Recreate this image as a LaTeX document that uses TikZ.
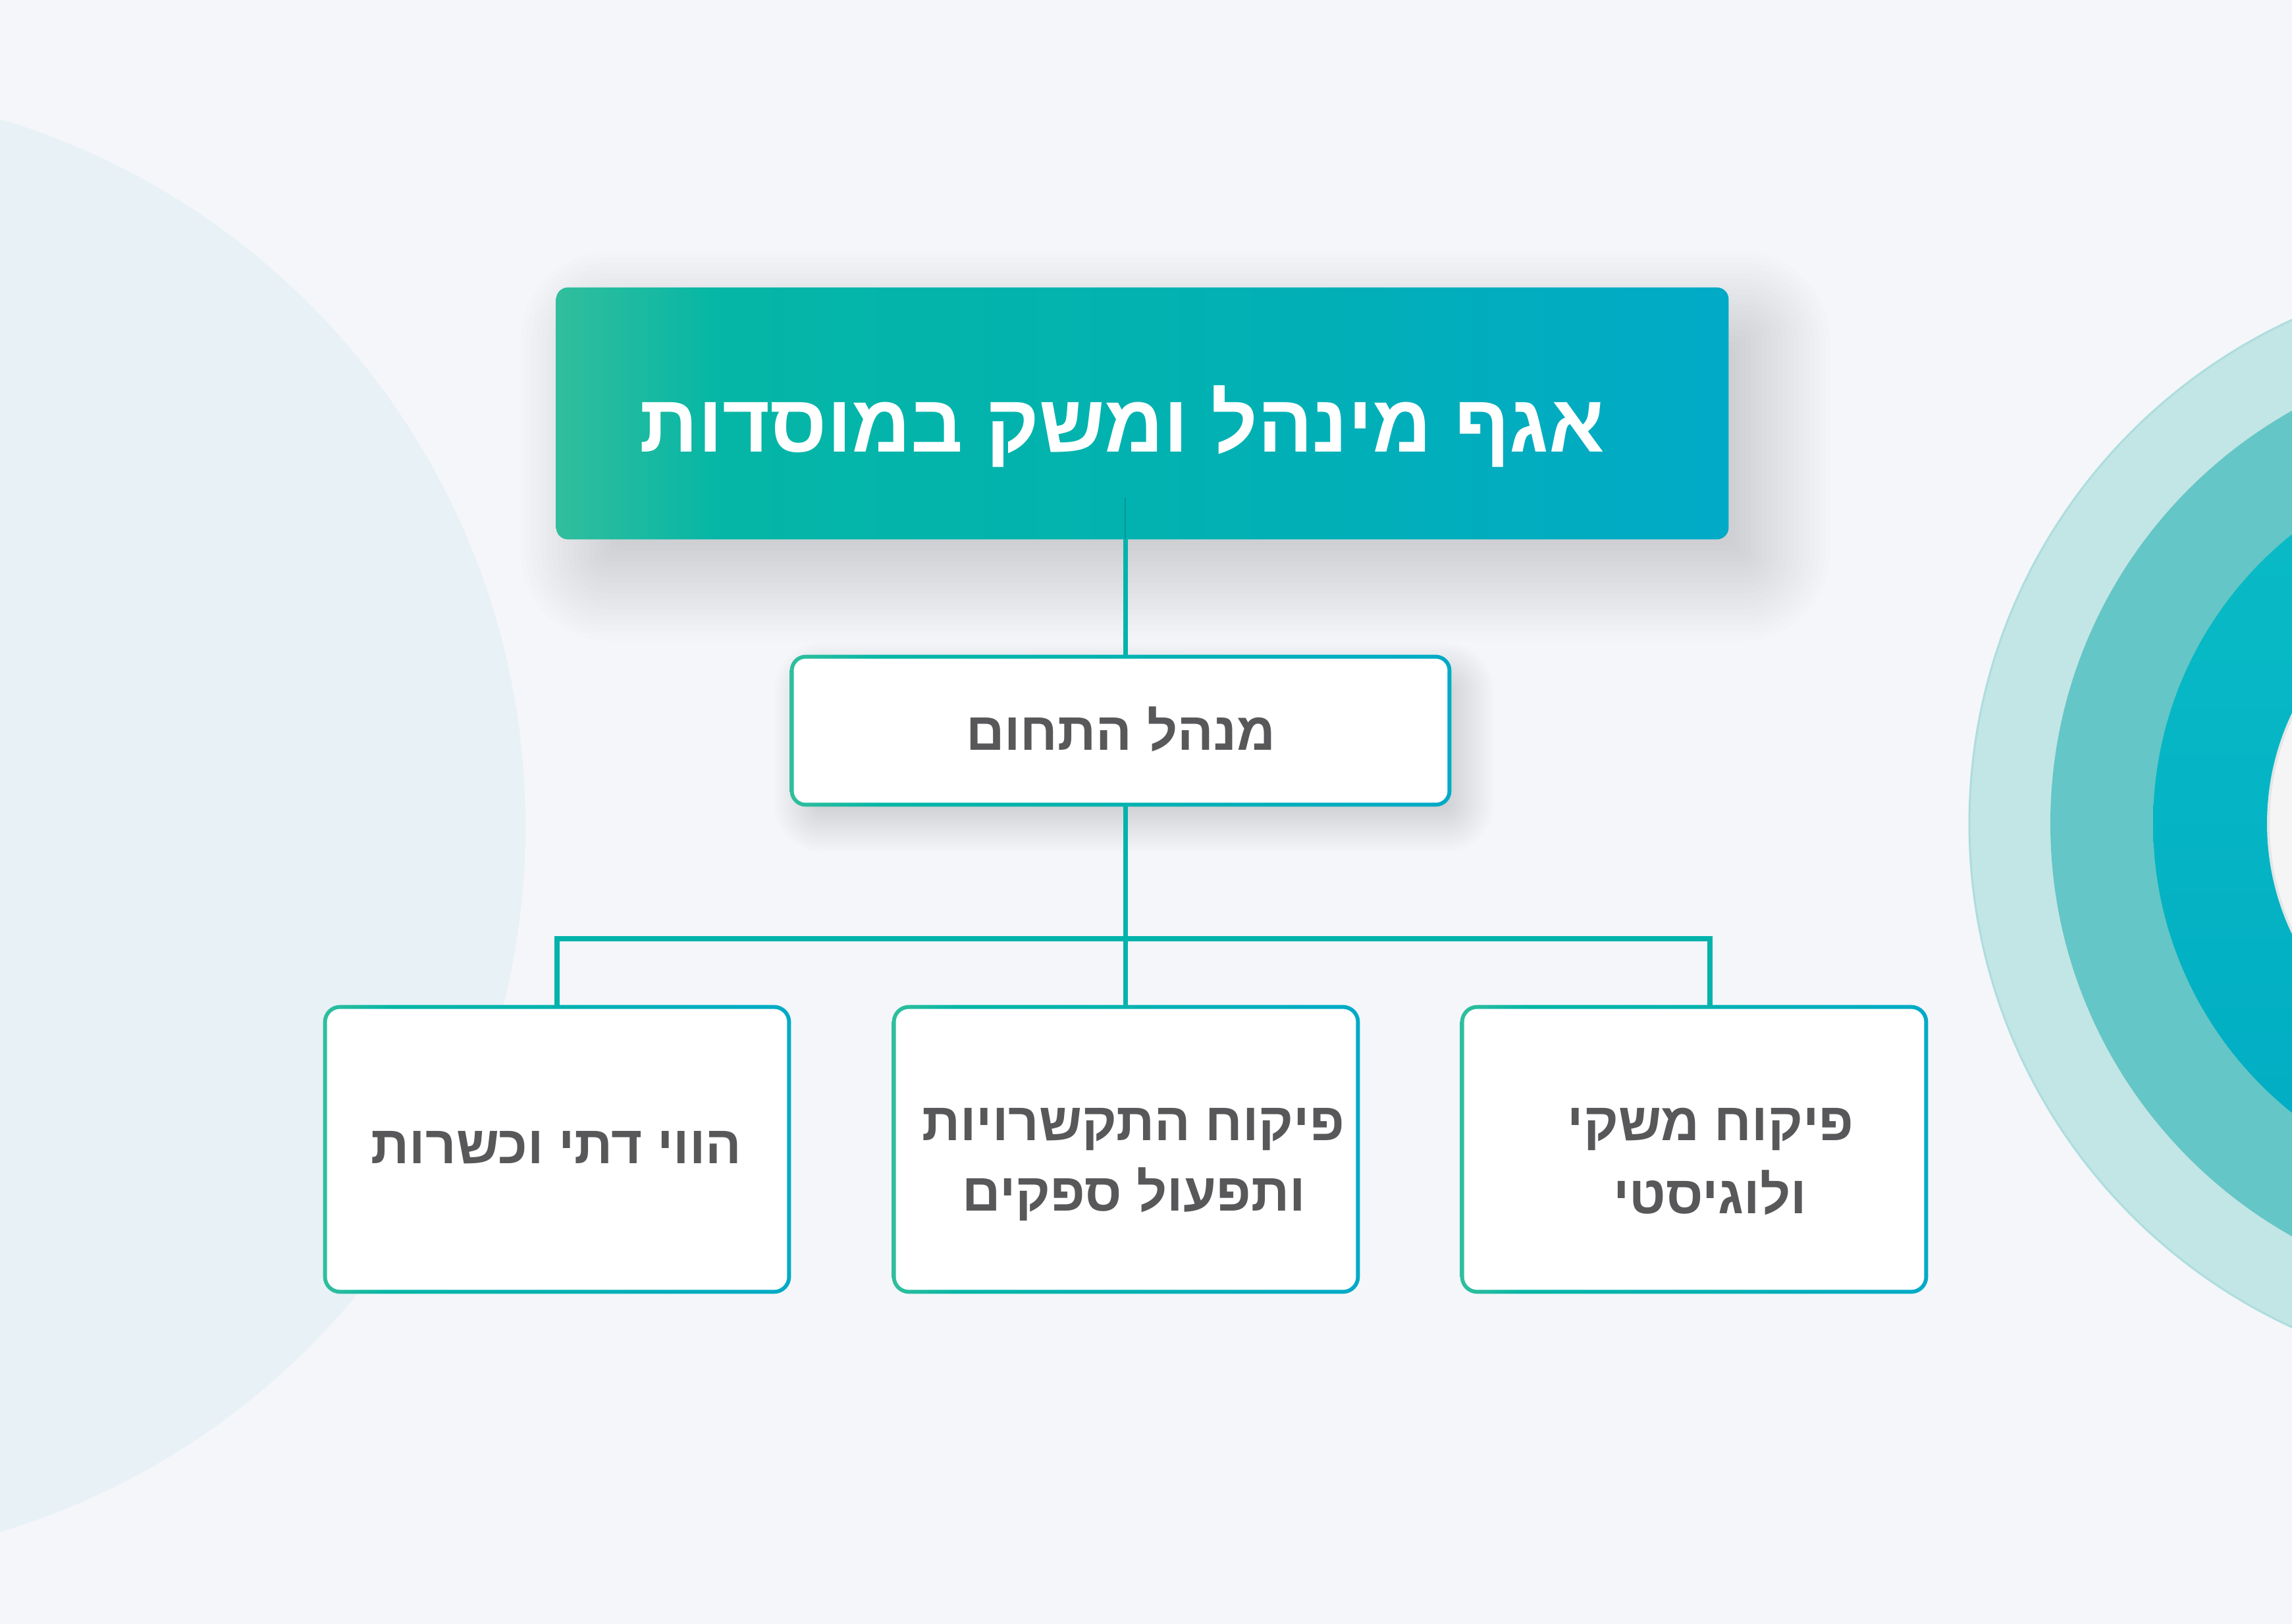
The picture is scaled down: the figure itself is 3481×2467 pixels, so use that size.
\documentclass[tikz,border=0pt]{standalone}
\usepackage{fontspec}
\newfontfamily\heb[Script=Hebrew]{Liberation Sans}
\TeXXeTstate=1
\usetikzlibrary{calc}
\definecolor{bgc}{HTML}{F4F6FA}
\definecolor{leftc}{HTML}{E8F1F6}
\definecolor{ring1}{HTML}{C2E5E6}
\definecolor{ring1b}{HTML}{AEDDDD}
\definecolor{ring2}{HTML}{64C6C6}
\definecolor{ring3a}{HTML}{0ABCC6}
\definecolor{ring3b}{HTML}{00ACC3}
\definecolor{ring4}{HTML}{F5F5F5}
\definecolor{ring4b}{HTML}{E3E6E6}
\definecolor{gA}{HTML}{31BE9C}
\definecolor{gB}{HTML}{05B6A6}
\definecolor{gM}{HTML}{01B2B0}
\definecolor{gC}{HTML}{01AAC7}
\definecolor{linec}{HTML}{02B3AB}
\definecolor{txtc}{HTML}{58585A}
\definecolor{shc}{HTML}{2A3550}
\pgfdeclarehorizontalshading{boxgrad}{100bp}{color(0bp)=(gA); color(25bp)=(gA); color(32bp)=(gB); color(50bp)=(gM); color(75bp)=(gC); color(100bp)=(gC)}
\newcommand\gradbox[3]{%
  \shade[shading=boxgrad, rounded corners=#2] (#1.south west) rectangle (#1.north east);
  \fill[white, rounded corners=#3] ($(#1.south west)+(6,-6)$) rectangle ($(#1.north east)+(-6,6)$);
}
% #1 node, #2 dx, #3 dy, #4 list of expansions (px), #5 opacity
\newcommand\softshadow[5]{%
  \foreach \e [evaluate=\e as \rr using {max(4,(\e+30)*0.5)}] in {#4} {
    \fill[shc, opacity=#5, rounded corners=\rr pt]
      ($(#1.south west)+(#2-\e, #3+\e)$) rectangle ($(#1.north east)+(#2+\e, #3-\e)$);
  }
}
\tikzset{
  boxnode/.style={draw=none, inner sep=0pt},
  bottombox/.style={boxnode, minimum width=355pt, minimum height=219pt},
  conn/.style={draw=linec, line width=3.5pt},
  busline/.style={draw=linec, line width=4pt, line join=miter},
  lbl/.style={inner sep=0pt, anchor=base, text=txtc, font=\heb\bfseries\fontsize{40.5pt}{48pt}\selectfont},
  toplbl/.style={inner sep=0pt, anchor=base, text=white, font=\heb\bfseries\fontsize{62pt}{70pt}\selectfont}
}
\begin{document}
\begin{tikzpicture}[x=0.5pt,y=-0.5pt]
\useasboundingbox (0,0) rectangle (3481,2467);
\begin{scope}
  \clip (0,0) rectangle (3481,2467);
  \fill[bgc] (0,0) rectangle (3481,2467);
  \fill[leftc] (-322,1254) circle (560pt);
  \fill[ring1, draw=ring1b, line width=1.5pt] (3833,1251) circle (421pt);
  \fill[ring2] (3833,1251) circle (359.5pt);
  \shade[top color=ring3a, bottom color=ring3b] (3833,1251) circle (281.5pt);
  \fill[ring4, draw=ring4b, line width=2pt] (3833,1251) circle (194pt);
\end{scope}

% box geometry
\node[boxnode, minimum width=890pt, minimum height=191pt] (top) at (1735,628) {};
\node[boxnode, minimum width=502pt, minimum height=115pt] (mid) at (1702,1110) {};
\node[bottombox] (l) at (846,1746) {};
\node[bottombox] (c) at (1710,1746) {};
\node[bottombox] (r) at (2573,1746) {};

% shadows
\softshadow{top}{50}{50}{-40,-32,...,104}{0.0075}
\softshadow{mid}{20}{25}{-24,-20,...,44}{0.0075}

% boxes
\shade[shading=boxgrad, rounded corners=9pt] (top.south west) rectangle (top.north east);
\gradbox{mid}{12pt}{9pt}
\gradbox{l}{13pt}{10pt}
\gradbox{c}{13pt}{10pt}
\gradbox{r}{13pt}{10pt}

% texts
\node[toplbl] (toptxt) at (1704,686) {\beginR אגף מינהל ומשק במוסדות\endR};
\node[lbl] (midtxt) at (1702,1139) {\beginR מנהל התחום\endR};
\node[lbl] (ltxt) at (845,1767) {\beginR הווי דתי וכשרות\endR};
\node[lbl] (ctxta) at (1721,1732) {\beginR פיקוח התקשרויות\endR};
\node[lbl] (ctxtb) at (1722,1839) {\beginR ותפעול ספקים\endR};
\node[lbl] (rtxta) at (2598,1732) {\beginR פיקוח משקי\endR};
\node[lbl] (rtxtb) at (2597,1843) {\beginR ולוגיסטי\endR};

% connectors
\coordinate (trunk) at (1709,0);
\coordinate (inner) at (1709,756);
\coordinate (busR) at (2597,1426);
\draw[draw=linec!70!black, line width=1pt, opacity=0.5] (inner) -- (top.south -| trunk);
\draw[conn] (top.south -| trunk) -- (mid.north -| trunk);
\draw[conn] (mid.south -| trunk) -- (c.north -| trunk);
\draw[busline] (l.north) |- (busR) -- (busR |- r.north);
\end{tikzpicture}
\end{document}
